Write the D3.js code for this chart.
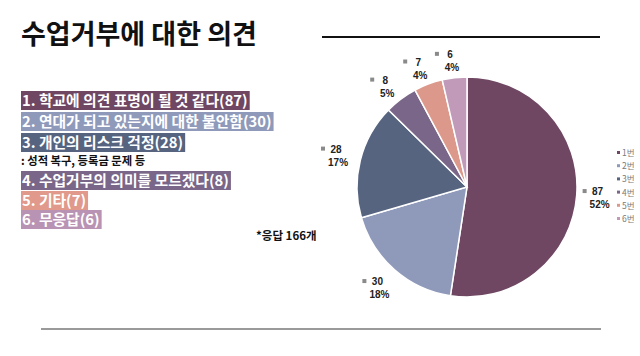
<!DOCTYPE html>
<html><head><meta charset="utf-8">
<script src="https://cdn.jsdelivr.net/npm/d3@7"></script>
<style>
html,body{margin:0;padding:0;background:#fff;}
svg{display:block;}
</style></head>
<body>
<svg id="c" width="640" height="356"></svg>
<script>
const title = "수업거부에 대한 의견";
const categories = ["학교에 의견 표명이 될 것 같다","연대가 되고 있는지에 대한 불안함","개인의 리스크 걱정","수업거부의 의미를 모르겠다","기타","무응답"];
const values = [87, 30, 28, 8, 7, 6];
const legendLabels = ["1번","2번","3번","4번","5번","6번"];
const subNote = ": 성적 복구, 등록금 문제 등";

const palette = ["#6f4763","#8f9abb","#566480","#7a6688","#dc998b","#c09ab8"];
const boxPalette = ["#6f4763","#8f9abb","#566480","#7a6688","#e0998a","#b993b3"];

const svg = d3.select("#c");
const font = "'Noto Sans CJK KR','Noto Sans',sans-serif";
const total = d3.sum(values);

// title
svg.append("text").attr("x",21).attr("y",44)
  .attr("font-family",font).attr("font-weight",700).attr("font-size",27)
  .attr("fill","#111").text(title);
svg.append("line").attr("x1",322).attr("x2",600).attr("y1",37).attr("y2",37)
  .attr("stroke","#111").attr("stroke-width",2);
svg.append("line").attr("x1",41).attr("x2",601).attr("y1",329).attr("y2",329)
  .attr("stroke","#9a9a9a").attr("stroke-width",2);

// left list
const color = d3.scaleOrdinal().domain(d3.range(values.length)).range(palette);
const boxColor = d3.scaleOrdinal().domain(d3.range(values.length)).range(boxPalette);
const rowTops = [91,112,133,171,191,210];
const list = svg.append("g");
categories.forEach((c,i)=>{
  const g = list.append("g").attr("transform",`translate(21,${rowTops[i]})`);
  const rect = g.append("rect").attr("y",0).attr("height",19).attr("fill",boxColor(i));
  const t = g.append("text").attr("x",1).attr("y",15)
    .attr("font-family",font).attr("font-weight",700).attr("font-size",14.8)
    .attr("fill","#fff").text(`${i+1}. ${c}(${values[i]})`);
  const w = t.node().getComputedTextLength();
  rect.attr("width", w+3);
});
svg.append("text").attr("x",21).attr("y",165)
  .attr("font-family",font).attr("font-weight",700).attr("font-size",11.3)
  .attr("fill","#111").text(subNote);

svg.append("text").attr("x",256).attr("y",240)
  .attr("font-family",font).attr("font-weight",700).attr("font-size",11.5)
  .attr("fill","#111").text(`*응답 ${total}개`);

// pie
const cx = 467, cy = 187, R = 110;
const pie = d3.pie().sort(null).value(d=>d)(values);
const arc = d3.arc().innerRadius(0).outerRadius(R);
const pg = svg.append("g").attr("transform",`translate(${cx},${cy})`);
pg.selectAll("path").data(pie).join("path")
  .attr("d",arc).attr("fill",(d,i)=>color(i))
  .attr("stroke","#fff").attr("stroke-width",1.5);

// data labels
const labelArc = d3.arc().innerRadius(133).outerRadius(133);
const lf = "'Liberation Sans',Arial,sans-serif";
pie.forEach((d,i)=>{
  let [x,y] = labelArc.centroid(d);
  if (i>=3) y += 5;
  const g = pg.append("g").attr("transform",`translate(${x},${y})`);
  g.append("rect").attr("x",-17).attr("y",-8).attr("width",4).attr("height",4).attr("fill","#8a8a8a");
  g.append("text").attr("x",-2).attr("y",-2).attr("text-anchor","middle")
    .attr("font-family",lf).attr("font-weight",700).attr("font-size",10)
    .attr("fill","#222").text(values[i]);
  g.append("text").attr("x",0).attr("y",11).attr("text-anchor","middle")
    .attr("font-family",lf).attr("font-weight",700).attr("font-size",10)
    .attr("fill","#222").text(Math.round(values[i]/total*100)+"%");
});

// legend
const lg = svg.append("g").attr("transform","translate(617,153)");
legendLabels.forEach((l,i)=>{
  const y = i*13.2;
  lg.append("rect").attr("x",0).attr("y",y-2).attr("width",3).attr("height",3).attr("fill",color(i));
  lg.append("text").attr("x",5).attr("y",y+3)
    .attr("font-family",font).attr("font-size",8.5).attr("fill","#7a7a7a").text(l);
});
</script>
</body></html>
